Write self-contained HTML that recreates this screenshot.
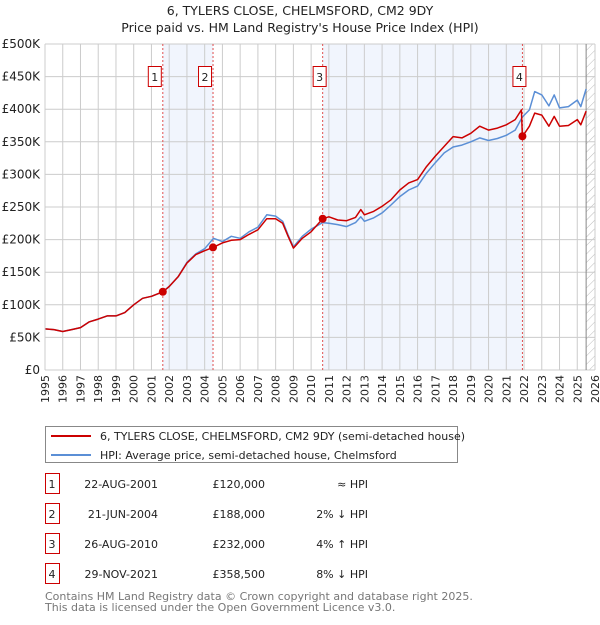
<!DOCTYPE html>
<html><head><meta charset="utf-8"><style>
body{margin:0;background:#fff;font-family:"Liberation Sans","DejaVu Sans",sans-serif;}
svg text{font-family:"DejaVu Sans","Liberation Sans",sans-serif;}
</style></head><body>
<svg id="c" width="600" height="620" xmlns="http://www.w3.org/2000/svg">
<defs><pattern id="hatch" width="6" height="6" patternUnits="userSpaceOnUse" patternTransform="rotate(45)"><line x1="0" y1="0" x2="0" y2="6" stroke="#bbb" stroke-width="1"/></pattern></defs>
<text x="300" y="15" text-anchor="middle" font-size="12.5" fill="#222">6, TYLERS CLOSE, CHELMSFORD, CM2 9DY</text>
<text x="300" y="32" text-anchor="middle" font-size="12.5" fill="#222">Price paid vs. HM Land Registry's House Price Index (HPI)</text>
<g id="plot"></g>
<g>
<rect x="45.5" y="426.5" width="412" height="36" fill="#fff" stroke="#888"/>
<line x1="51" y1="436" x2="91" y2="436" stroke="#cc0000" stroke-width="2"/>
<text x="100" y="440" font-size="11" fill="#222">6, TYLERS CLOSE, CHELMSFORD, CM2 9DY (semi-detached house)</text>
<line x1="51" y1="455" x2="91" y2="455" stroke="#5b8fd6" stroke-width="2"/>
<text x="100" y="459" font-size="11" fill="#222">HPI: Average price, semi-detached house, Chelmsford</text>
</g>
<g id="table" font-size="11" fill="#222"></g>
<text x="45" y="600" font-size="11" fill="#777">Contains HM Land Registry data © Crown copyright and database right 2025.</text>
<text x="45" y="611" font-size="11" fill="#777">This data is licensed under the Open Government Licence v3.0.</text>
</svg>
<script>
const yTicks=[0,50,100,150,200,250,300,350,400,450,500];
const yTickLabels=["£0","£50K","£100K","£150K","£200K","£250K","£300K","£350K","£400K","£450K","£500K"];
const xYears=[1995,1996,1997,1998,1999,2000,2001,2002,2003,2004,2005,2006,2007,2008,2009,2010,2011,2012,2013,2014,2015,2016,2017,2018,2019,2020,2021,2022,2023,2024,2025,2026];
const priceYears=[1995,1995.5,1996,1996.5,1997,1997.5,1998,1998.5,1999,1999.5,2000,2000.5,2001,2001.64,2002,2002.5,2003,2003.5,2004,2004.47,2005,2005.5,2006,2006.5,2007,2007.5,2008,2008.4,2008.7,2009,2009.5,2010,2010.65,2011,2011.5,2012,2012.5,2012.8,2013,2013.5,2014,2014.5,2015,2015.5,2016,2016.5,2017,2017.5,2018,2018.5,2019,2019.5,2020,2020.5,2021,2021.5,2021.85,2021.91,2022.3,2022.6,2023,2023.4,2023.7,2024,2024.5,2025,2025.2,2025.5];
const priceValues=[63,62,59,62,65,74,78,83,83,88,100,110,113,120,128,143,164,177,183,188,195,199,200,208,215,232,232,225,205,187,202,212,232,235,230,229,234,246,238,243,251,261,276,287,292,312,328,343,358,356,363,374,368,371,376,384,399,358,374,394,391,374,389,374,375,384,376,397];
const hpiYears=[1995,1995.5,1996,1996.5,1997,1997.5,1998,1998.5,1999,1999.5,2000,2000.5,2001,2001.64,2002,2002.5,2003,2003.5,2004,2004.5,2005,2005.5,2006,2006.5,2007,2007.5,2008,2008.4,2008.7,2009,2009.5,2010,2010.65,2011,2011.5,2012,2012.5,2012.8,2013,2013.5,2014,2014.5,2015,2015.5,2016,2016.5,2017,2017.5,2018,2018.5,2019,2019.5,2020,2020.5,2021,2021.5,2021.91,2022.3,2022.6,2023,2023.4,2023.7,2024,2024.5,2025,2025.2,2025.5];
const hpiValues=[63,62,59,62,65,74,78,83,83,88,100,110,113,120,128,143,165,178,186,202,197,205,202,212,219,238,236,228,207,189,205,216,226,225,223,220,226,235,228,233,241,253,266,276,282,302,318,333,342,345,350,356,352,355,360,368,388,399,427,422,405,422,402,404,414,404,431];
const saleIds=["1","2","3","4"];
const saleYears=[2001.64,2004.47,2010.65,2021.91];
const saleValues=[120,188,232,358.5];
const saleDates=["22-AUG-2001","21-JUN-2004","26-AUG-2010","29-NOV-2021"];
const salePrices=["£120,000","£188,000","£232,000","£358,500"];
const saleHpi=["≈ HPI","2% ↓ HPI","4% ↑ HPI","8% ↓ HPI"];

const NS="http://www.w3.org/2000/svg";
const X0=45,X1=595,Y0=370,Y1=44;
const xs=y=>X0+(y-1995)/(2026-1995)*(X1-X0);
const ys=v=>Y0-v/500*(Y0-Y1);
const plot=document.getElementById('plot');
function mk(tag,attrs,parent){const e=document.createElementNS(NS,tag);for(const k in attrs)e.setAttribute(k,attrs[k]);(parent||plot).appendChild(e);return e;}
for(const [a,b] of [[0,1],[2,3]]){
 const r=mk('rect',{x:xs(saleYears[a]),y:Y1,width:xs(saleYears[b])-xs(saleYears[a]),height:Y0-Y1,fill:'#eef3fc',opacity:0.8});
 
 
}
const hr=mk('rect',{x:xs(2025.5),y:Y1,width:X1-xs(2025.5),height:Y0-Y1,fill:'url(#hatch)'});


xYears.forEach(y=>{
 const l=mk('line',{x1:xs(y),x2:xs(y),y1:Y1,y2:Y0,stroke:'#ccc','stroke-width':1});
 
 
 const t=mk('text',{x:0,y:0,'font-size':11,fill:'#222','text-anchor':'end',transform:`translate(${xs(y)+4},${Y0+5}) rotate(-90)`});
 t.textContent=y;
 
 
});
yTicks.forEach((v,i)=>{
 const l=mk('line',{x1:X0,x2:X1,y1:ys(v),y2:ys(v),stroke:'#ccc','stroke-width':1});
 
 
 const t=mk('text',{x:X0-5,y:ys(v)+4,'font-size':12,fill:'#222','text-anchor':'end'});
 t.textContent=yTickLabels[i];
 
 
});
mk('line',{x1:xs(2025.5),x2:xs(2025.5),y1:Y1,y2:Y0,stroke:'#888','stroke-width':1});
saleYears.forEach((y,i)=>{
 const l=mk('line',{x1:xs(y),x2:xs(y),y1:Y1,y2:Y0,stroke:'#e05050','stroke-width':1,'stroke-dasharray':'2,2'});
 
 
 const bx=xs(y)-(i==3?3:i==2?3:8);
 const b=mk('rect',{x:bx-6.5,y:66.5,width:13,height:20,fill:'#fff',stroke:'#cc0000'});
 
 
 const t=mk('text',{x:bx,y:81,'font-size':11,fill:'#222','text-anchor':'middle'});
 t.textContent=saleIds[i];
 
 
});
function path(yrs,vals,color,name){
 const d=yrs.map((y,i)=>(i?'L':'M')+xs(y).toFixed(1)+','+ys(vals[i]).toFixed(1)).join('');
 const p=mk('path',{d:d,fill:'none',stroke:color,'stroke-width':1.5,'stroke-linejoin':'round'});
 
 
}
path(hpiYears,hpiValues,'#5b8fd6','hpi-line');
path(priceYears,priceValues,'#cc0000','price-line');
saleYears.forEach((y,i)=>{
 const c=mk('circle',{cx:xs(y),cy:ys(saleValues[i]),r:4,fill:'#cc0000'});
 
 
});
mk('line',{x1:X0,x2:X0,y1:Y1,y2:Y0,stroke:'#ccc'});
const tb=document.getElementById('table');
saleIds.forEach((id,i)=>{
 const cy=483+i*30;
 const r=mk('rect',{x:45.5,y:cy-9.5,width:14,height:20,fill:'#fff',stroke:'#cc0000'},tb);
 
 
 const cols=[[52,id,'middle'],[158,saleDates[i],'end'],[265,salePrices[i],'end'],[368,saleHpi[i],'end']];
 cols.forEach(([x,s,a],j)=>{
  const t=mk('text',{x:x,y:cy+5,'text-anchor':a},tb);
  t.textContent=s;
  
  
 });
});
</script>
</body></html>
